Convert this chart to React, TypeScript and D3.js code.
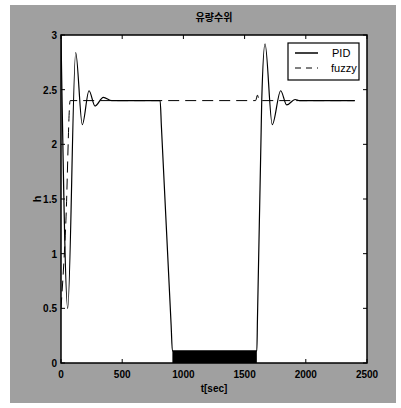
import React, { useEffect, useRef } from "react";
import * as d3 from "d3";

// time [sec] and level values
const pidT = [0, 55, 120, 174, 229, 278, 346, 414, 810, 820, 900, 910, 1600, 1605, 1635, 1640, 1667, 1726, 1795, 1844, 1912, 1950, 2400];
const pidY = [3.0, 0.5, 2.84, 2.18, 2.49, 2.35, 2.43, 2.4, 2.4, 2.17, 0.34, 0.11, 0.11, 0.4, 2.11, 2.4, 2.92, 2.18, 2.49, 2.36, 2.41, 2.4, 2.4];
const fuzzyT = [0, 40, 75, 810, 1590, 1605, 1620, 2400];
const fuzzyY = [0.5, 1.3, 2.4, 2.4, 2.4, 2.45, 2.4, 2.4];
// PID chatters between these limits while the level is low
const chatterT = [910, 1600];
const chatterY = [0, 0.11];

const xTicks = [0, 500, 1000, 1500, 2000, 2500];
const yTicks = [0, 0.5, 1, 1.5, 2, 2.5, 3];
const seriesNames = ["PID", "fuzzy"];

const W = 401, H = 408;
const margin = { left: 61, top: 35, right: 34, bottom: 45 };

export default function App() {
  const ref = useRef<SVGSVGElement>(null);

  useEffect(() => {
    const svg = d3.select(ref.current);
    svg.selectAll("*").remove();
    const w = W - margin.left - margin.right;
    const h = H - margin.top - margin.bottom;

    // dithered grey figure background
    svg.append("rect").attr("x", 10).attr("y", 5).attr("width", 386).attr("height", 398).attr("fill", "#a0a0a0");

    const g = svg.append("g").attr("transform", `translate(${margin.left},${margin.top})`);
    const x = d3.scaleLinear().domain([0, 2500]).range([0, w]);
    const y = d3.scaleLinear().domain([0, 3]).range([h, 0]);

    g.append("rect").attr("width", w).attr("height", h).attr("fill", "#fff");

    g.append("clipPath").attr("id", "clip").append("rect").attr("width", w).attr("height", h);
    const plot = g.append("g").attr("clip-path", "url(#clip)");

    const line = d3.line<[number, number]>()
      .x((d) => x(d[0]))
      .y((d) => y(d[1]))
      .curve(d3.curveMonotoneX);

    plot.append("rect")
      .attr("x", x(chatterT[0]))
      .attr("y", y(chatterY[1]))
      .attr("width", x(chatterT[1]) - x(chatterT[0]))
      .attr("height", y(chatterY[0]) - y(chatterY[1]))
      .attr("fill", "#000");

    plot.append("path")
      .datum(fuzzyT.map((t, i) => [t, fuzzyY[i]] as [number, number]))
      .attr("d", line)
      .attr("fill", "none")
      .attr("stroke", "#000")
      .attr("stroke-width", 1)
      .attr("stroke-dasharray", "11,6");

    plot.append("path")
      .datum(pidT.map((t, i) => [t, pidY[i]] as [number, number]))
      .attr("d", line)
      .attr("fill", "none")
      .attr("stroke", "#000")
      .attr("stroke-width", 1.2);

    // frame and inward ticks on all sides
    g.append("rect").attr("width", w).attr("height", h).attr("fill", "none").attr("stroke", "#000").attr("stroke-width", 1.5);
    xTicks.forEach((t) => {
      g.append("line").attr("x1", x(t)).attr("x2", x(t)).attr("y1", h).attr("y2", h - 4).attr("stroke", "#000");
      g.append("line").attr("x1", x(t)).attr("x2", x(t)).attr("y1", 0).attr("y2", 4).attr("stroke", "#000");
      g.append("text")
        .attr("x", x(t)).attr("y", h + 15)
        .attr("text-anchor", "middle")
        .style("font-family", "'Liberation Sans', Arial, sans-serif")
        .style("font-size", "10px").style("font-weight", "bold")
        .text(t);
    });
    yTicks.forEach((t) => {
      g.append("line").attr("x1", 0).attr("x2", 4).attr("y1", y(t)).attr("y2", y(t)).attr("stroke", "#000");
      g.append("line").attr("x1", w).attr("x2", w - 4).attr("y1", y(t)).attr("y2", y(t)).attr("stroke", "#000");
      g.append("text")
        .attr("x", -4).attr("y", y(t) + 4)
        .attr("text-anchor", "end")
        .style("font-family", "'Liberation Sans', Arial, sans-serif")
        .style("font-size", "10px").style("font-weight", "bold")
        .text(t);
    });

    // title and axis labels
    svg.append("text")
      .attr("x", margin.left + w / 2).attr("y", 21)
      .attr("text-anchor", "middle")
      .style("font-family", "'Noto Sans CJK KR', sans-serif")
      .style("font-size", "10px").style("font-weight", "bold")
      .text("유량수위");
    svg.append("text")
      .attr("x", margin.left + w / 2).attr("y", 392)
      .attr("text-anchor", "middle")
      .style("font-family", "'Liberation Sans', Arial, sans-serif")
      .style("font-size", "10px").style("font-weight", "bold")
      .text("t[sec]");
    svg.append("text")
      .attr("transform", `translate(41,${margin.top + h / 2}) rotate(-90)`)
      .attr("text-anchor", "middle")
      .style("font-family", "'Liberation Sans', Arial, sans-serif")
      .style("font-size", "11px").style("font-weight", "bold")
      .text("h");

    // legend
    const lg = svg.append("g").attr("transform", "translate(288,43)");
    lg.append("rect").attr("width", 71).attr("height", 37).attr("fill", "#fff").attr("stroke", "#000").attr("stroke-width", 1.2);
    seriesNames.forEach((name, i) => {
      const ly = 10 + i * 15;
      lg.append("line")
        .attr("x1", 7).attr("x2", 30).attr("y1", ly).attr("y2", ly)
        .attr("stroke", "#000").attr("stroke-width", i === 0 ? 1.5 : 1)
        .attr("stroke-dasharray", i === 0 ? null : "6,5");
      lg.append("text")
        .attr("x", i === 0 ? 44 : 43).attr("y", ly + 4)
        .style("font-family", "'Liberation Sans', Arial, sans-serif")
        .style("font-size", "11px")
        .text(name);
    });
  }, []);

  return (
    <svg ref={ref} width={W} height={H} style={{ position: "absolute", left: 0, top: 0, background: "#fff" }} />
  );
}
